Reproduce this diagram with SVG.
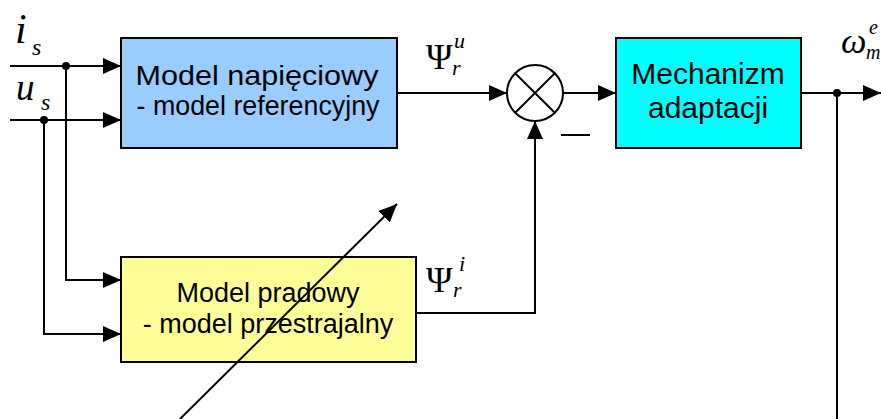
<svg xmlns="http://www.w3.org/2000/svg" width="881" height="419" viewBox="0 0 881 419">
<defs>
<marker id="ar" viewBox="0 0 18 16" refX="18" refY="8" markerWidth="18" markerHeight="16" markerUnits="userSpaceOnUse" orient="auto">
<path d="M0,0 L18,8 L0,16 z" fill="#000"/>
</marker>
</defs>
<style>
.box{stroke:#000;stroke-width:2}
.lbl{font-family:"Liberation Sans",Arial,sans-serif;text-anchor:middle;fill:#000}
.sym{font-family:"Liberation Serif","Times New Roman",serif;font-style:italic;fill:#000}
.psi{font-family:"Liberation Serif","Times New Roman",serif;fill:#000}
.ln{fill:none;stroke:#000;stroke-width:2}
</style>
<rect width="881" height="419" fill="#fff"/>
<g id="connectors">
<path class="ln" d="M10,66 H121" marker-end="url(#ar)"/>
<path class="ln" d="M10,120 H121" marker-end="url(#ar)"/>
<path class="ln" d="M66,66 V280 H121" marker-end="url(#ar)"/>
<path class="ln" d="M44,120 V334 H121" marker-end="url(#ar)"/>
<circle cx="66" cy="66" r="4" fill="#000"/>
<circle cx="44" cy="120" r="4" fill="#000"/>
<path class="ln" d="M397,93 H507" marker-end="url(#ar)"/>
<path class="ln" d="M563,93 H616" marker-end="url(#ar)"/>
<path class="ln" d="M416,313 H535 V121" marker-end="url(#ar)"/>
<path class="ln" d="M801,93 H881" marker-end="url(#ar)"/>
<circle cx="837" cy="93" r="4" fill="#000"/>
<path class="ln" d="M837,93 V419"/>
<path class="ln" d="M561,135 H590"/>
</g>
<g id="sum">
<circle cx="535" cy="93" r="28" fill="#fff" stroke="#000" stroke-width="2"/>
<path class="ln" d="M515.2,73.2 L554.8,112.8 M554.8,73.2 L515.2,112.8"/>
</g>
<g id="model-napieciowy">
<rect class="box" x="121" y="38" width="276" height="110" fill="#99ccff"/>
<text class="lbl" x="257" y="85" font-size="28" textLength="243" lengthAdjust="spacingAndGlyphs">Model napięciowy</text>
<text class="lbl" x="258" y="115" font-size="28" textLength="243" lengthAdjust="spacingAndGlyphs">- model referencyjny</text>
</g>
<g id="mechanizm">
<rect class="box" x="616" y="38" width="185" height="110" fill="#00ffff"/>
<text class="lbl" x="708" y="84" font-size="30">Mechanizm</text>
<text class="lbl" x="708" y="118" font-size="30">adaptacji</text>
</g>
<g id="model-pradowy">
<rect class="box" x="121" y="257" width="295" height="105" fill="#ffff99"/>
<text class="lbl" x="268" y="302" font-size="27">Model pradowy</text>
<text class="lbl" x="268" y="333" font-size="27">- model przestrajalny</text>
</g>
<g id="labels">
<text class="sym" x="15" y="43" font-size="42">i</text>
<text class="sym" x="32" y="55" font-size="24">s</text>
<text class="sym" x="16" y="100" font-size="37">u</text>
<text class="sym" x="41" y="110" font-size="24">s</text>
<text class="psi" x="426" y="69" font-size="36">Ψ</text>
<text class="sym" x="454" y="48" font-size="22">u</text>
<text class="sym" x="452" y="75" font-size="22">r</text>
<text class="psi" x="426" y="292" font-size="36">Ψ</text>
<text class="sym" x="459" y="271" font-size="22">i</text>
<text class="sym" x="453" y="297" font-size="22">r</text>
<text class="sym" x="841" y="53" font-size="36">ω</text>
<text class="sym" x="869" y="34" font-size="20">e</text>
<text class="sym" x="866" y="59" font-size="20">m</text>
</g>
<g id="diagonal">
<path class="ln" d="M180,419 L397,204" marker-end="url(#ar)"/>
</g>
</svg>
